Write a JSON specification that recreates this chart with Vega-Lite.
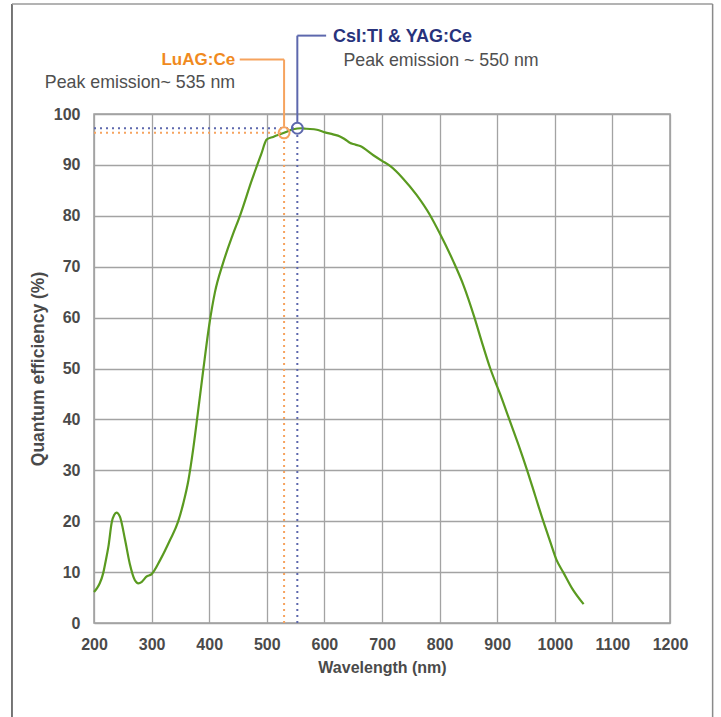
{
  "$schema": "https://vega.github.io/schema/vega-lite/v6.json",
  "width": 576,
  "height": 509,
  "autosize": "none",
  "padding": {"left": 94, "top": 114, "right": 51, "bottom": 94},
  "background": "white",
  "config": {
    "view": {"stroke": "#9c9c9c", "strokeWidth": 1.5},
    "font": "Liberation Sans",
    "axis": {
      "grid": true, "gridColor": "#a3a3a3", "gridWidth": 1.3,
      "ticks": false, "domain": false,
      "labelFont": "Liberation Sans", "labelFontSize": 16, "labelFontWeight": "bold", "labelColor": "#4a4a4a",
      "labelFlush": false, "labelOverlap": false, "labelBound": false,
      "titleFont": "Liberation Sans", "titleFontWeight": "bold", "titleColor": "#4a4a4a"
    }
  },
  "datasets": {
    "curve": [
      {"wavelength": 200, "qe": 6.1}, {"wavelength": 205, "qe": 6.8}, {"wavelength": 210, "qe": 7.8},
      {"wavelength": 216, "qe": 9.8}, {"wavelength": 220, "qe": 12}, {"wavelength": 225, "qe": 15},
      {"wavelength": 231, "qe": 19.9}, {"wavelength": 235, "qe": 21.2}, {"wavelength": 239, "qe": 21.7},
      {"wavelength": 245, "qe": 20.9}, {"wavelength": 254, "qe": 16.3}, {"wavelength": 262, "qe": 11.7},
      {"wavelength": 271, "qe": 8.4}, {"wavelength": 277, "qe": 7.8}, {"wavelength": 283, "qe": 8.1},
      {"wavelength": 291, "qe": 9.1}, {"wavelength": 300, "qe": 9.6}, {"wavelength": 315, "qe": 12.4},
      {"wavelength": 332, "qe": 16.3}, {"wavelength": 346, "qe": 19.9}, {"wavelength": 355, "qe": 23.5},
      {"wavelength": 364, "qe": 28.1}, {"wavelength": 372, "qe": 34}, {"wavelength": 380, "qe": 41},
      {"wavelength": 390, "qe": 50}, {"wavelength": 400, "qe": 58.5}, {"wavelength": 410, "qe": 65},
      {"wavelength": 424, "qe": 70.7}, {"wavelength": 440, "qe": 76}, {"wavelength": 454, "qe": 80.2},
      {"wavelength": 474, "qe": 87}, {"wavelength": 490, "qe": 92}, {"wavelength": 500, "qe": 95},
      {"wavelength": 511, "qe": 95.5}, {"wavelength": 530, "qe": 96.3}, {"wavelength": 546, "qe": 97},
      {"wavelength": 560, "qe": 97.2}, {"wavelength": 569, "qe": 97.1}, {"wavelength": 587, "qe": 96.9},
      {"wavelength": 601, "qe": 96.4}, {"wavelength": 615, "qe": 96}, {"wavelength": 627, "qe": 95.6},
      {"wavelength": 636, "qe": 95}, {"wavelength": 645, "qe": 94.3}, {"wavelength": 650, "qe": 94.1},
      {"wavelength": 662, "qe": 93.7}, {"wavelength": 685, "qe": 91.9}, {"wavelength": 700, "qe": 90.8},
      {"wavelength": 714, "qe": 89.8}, {"wavelength": 736, "qe": 87.4}, {"wavelength": 760, "qe": 84.1},
      {"wavelength": 783, "qe": 80.2}, {"wavelength": 800, "qe": 76.6}, {"wavelength": 824, "qe": 71},
      {"wavelength": 842, "qe": 66.2}, {"wavelength": 860, "qe": 60.2}, {"wavelength": 875, "qe": 54.6},
      {"wavelength": 888, "qe": 50}, {"wavelength": 905, "qe": 45}, {"wavelength": 921, "qe": 40},
      {"wavelength": 937, "qe": 35}, {"wavelength": 952, "qe": 30}, {"wavelength": 966, "qe": 25},
      {"wavelength": 980, "qe": 20}, {"wavelength": 992, "qe": 16}, {"wavelength": 1003, "qe": 12.4},
      {"wavelength": 1015, "qe": 9.9}, {"wavelength": 1030, "qe": 6.8}, {"wavelength": 1050, "qe": 3.7}
    ],
    "dotted": [
      {"series": "LuAG", "x": 200, "x2": 525, "y": 96.3, "y2": 96.3},
      {"series": "LuAG", "x": 530, "x2": 530, "y": 0, "y2": 95.1},
      {"series": "CsI", "x": 200, "x2": 547, "y": 97.2, "y2": 97.2},
      {"series": "CsI", "x": 553, "x2": 553, "y": 0, "y2": 96.0}
    ],
    "leaders": [
      {"series": "LuAG", "x": 530, "x2": 530, "y": 97.5, "y2": 110.7},
      {"series": "LuAG", "x": 453, "x2": 530, "y": 110.7, "y2": 110.7},
      {"series": "CsI", "x": 553, "x2": 553, "y": 98.4, "y2": 115.4},
      {"series": "CsI", "x": 553, "x2": 603, "y": 115.4, "y2": 115.4}
    ],
    "peaks": [
      {"series": "LuAG", "x": 530, "y": 96.3},
      {"series": "CsI", "x": 553, "y": 97.2}
    ],
    "frame": [
      {"x": 57.6, "x2": 57.6, "y": -30, "y2": 121.6, "side": "left"},
      {"x": 57.6, "x2": 1274, "y": 121.6, "y2": 121.6, "side": "top"},
      {"x": 1274, "x2": 1274, "y": -30, "y2": 121.6, "side": "right"}
    ]
  },
  "layer": [
    {
      "data": {"name": "curve"},
      "mark": {"type": "line", "color": "#5a9a20", "strokeWidth": 2.2, "interpolate": "monotone"},
      "encoding": {
        "x": {"field": "wavelength", "type": "quantitative",
              "scale": {"domain": [200, 1200], "nice": false, "zero": false},
              "axis": {"values": [200,300,400,500,600,700,800,900,1000,1100,1200], "format": "d", "title": "Wavelength (nm)", "titleFontSize": 16, "labelPadding": 13, "titlePadding": 7}},
        "y": {"field": "qe", "type": "quantitative",
              "scale": {"domain": [0, 100], "nice": false},
              "axis": {"values": [0,10,20,30,40,50,60,70,80,90,100], "format": "d", "title": "Quantum efficiency (%)", "titleFontSize": 17.5, "labelPadding": 14, "titlePadding": 6}}
      }
    },
    {
      "data": {"name": "dotted"},
      "mark": {"type": "rule", "strokeWidth": 2, "strokeDash": [2, 4]},
      "encoding": {
        "x": {"field": "x", "type": "quantitative", "scale": {"domain": [200, 1200], "nice": false, "zero": false}},
        "x2": {"field": "x2"},
        "y": {"field": "y", "type": "quantitative", "scale": {"domain": [0, 100], "nice": false}},
        "y2": {"field": "y2"},
        "color": {"field": "series", "type": "nominal", "scale": {"domain": ["LuAG", "CsI"], "range": ["#f6a35e", "#5d68ad"]}, "legend": null}
      }
    },
    {
      "data": {"name": "leaders"},
      "mark": {"type": "rule", "strokeWidth": 2},
      "encoding": {
        "x": {"field": "x", "type": "quantitative", "scale": {"domain": [200, 1200], "nice": false, "zero": false}},
        "x2": {"field": "x2"},
        "y": {"field": "y", "type": "quantitative", "scale": {"domain": [0, 100], "nice": false}},
        "y2": {"field": "y2"},
        "color": {"field": "series", "type": "nominal", "scale": {"domain": ["LuAG", "CsI"], "range": ["#f6a35e", "#5d68ad"]}, "legend": null}
      }
    },
    {
      "data": {"name": "peaks"},
      "mark": {"type": "point", "filled": false, "size": 120, "strokeWidth": 2, "opacity": 1},
      "encoding": {
        "x": {"field": "x", "type": "quantitative", "scale": {"domain": [200, 1200], "nice": false, "zero": false}},
        "y": {"field": "y", "type": "quantitative", "scale": {"domain": [0, 100], "nice": false}},
        "color": {"field": "series", "type": "nominal", "scale": {"domain": ["LuAG", "CsI"], "range": ["#f6a35e", "#5d68ad"]}, "legend": null}
      }
    },
    {
      "data": {"values": [
        {"x": 445, "y": 110.6, "label": "LuAG:Ce"}
      ]},
      "mark": {"type": "text", "align": "right", "baseline": "middle", "fontSize": 17, "fontWeight": "bold", "color": "#f08a1e", "font": "Liberation Sans"},
      "encoding": {
        "x": {"field": "x", "type": "quantitative", "scale": {"domain": [200, 1200], "nice": false, "zero": false}},
        "y": {"field": "y", "type": "quantitative", "scale": {"domain": [0, 100], "nice": false}},
        "text": {"field": "label"}
      }
    },
    {
      "data": {"values": [
        {"x": 445, "y": 106.1, "label": "Peak emission~ 535 nm"}
      ]},
      "mark": {"type": "text", "align": "right", "baseline": "middle", "fontSize": 17.8, "color": "#4f4f4f", "font": "Liberation Sans"},
      "encoding": {
        "x": {"field": "x", "type": "quantitative", "scale": {"domain": [200, 1200], "nice": false, "zero": false}},
        "y": {"field": "y", "type": "quantitative", "scale": {"domain": [0, 100], "nice": false}},
        "text": {"field": "label"}
      }
    },
    {
      "data": {"values": [
        {"x": 615, "y": 115.2, "label": "CsI:Tl & YAG:Ce"}
      ]},
      "mark": {"type": "text", "align": "left", "baseline": "middle", "fontSize": 18, "fontWeight": "bold", "color": "#28337c", "font": "Liberation Sans"},
      "encoding": {
        "x": {"field": "x", "type": "quantitative", "scale": {"domain": [200, 1200], "nice": false, "zero": false}},
        "y": {"field": "y", "type": "quantitative", "scale": {"domain": [0, 100], "nice": false}},
        "text": {"field": "label"}
      }
    },
    {
      "data": {"values": [
        {"x": 633, "y": 110.4, "label": "Peak emission ~ 550 nm"}
      ]},
      "mark": {"type": "text", "align": "left", "baseline": "middle", "fontSize": 17.8, "color": "#4f4f4f", "font": "Liberation Sans"},
      "encoding": {
        "x": {"field": "x", "type": "quantitative", "scale": {"domain": [200, 1200], "nice": false, "zero": false}},
        "y": {"field": "y", "type": "quantitative", "scale": {"domain": [0, 100], "nice": false}},
        "text": {"field": "label"}
      }
    },
    {
      "data": {"name": "frame"},
      "mark": {"type": "rule", "strokeWidth": 1.5},
      "encoding": {
        "x": {"field": "x", "type": "quantitative", "scale": {"domain": [200, 1200], "nice": false, "zero": false}},
        "x2": {"field": "x2"},
        "y": {"field": "y", "type": "quantitative", "scale": {"domain": [0, 100], "nice": false}},
        "y2": {"field": "y2"},
        "stroke": {"field": "side", "type": "nominal", "scale": {"domain": ["left", "top", "right"], "range": ["#4a4a4a", "#9a9a9a", "#8a8a8a"]}, "legend": null}
      }
    }
  ]
}
